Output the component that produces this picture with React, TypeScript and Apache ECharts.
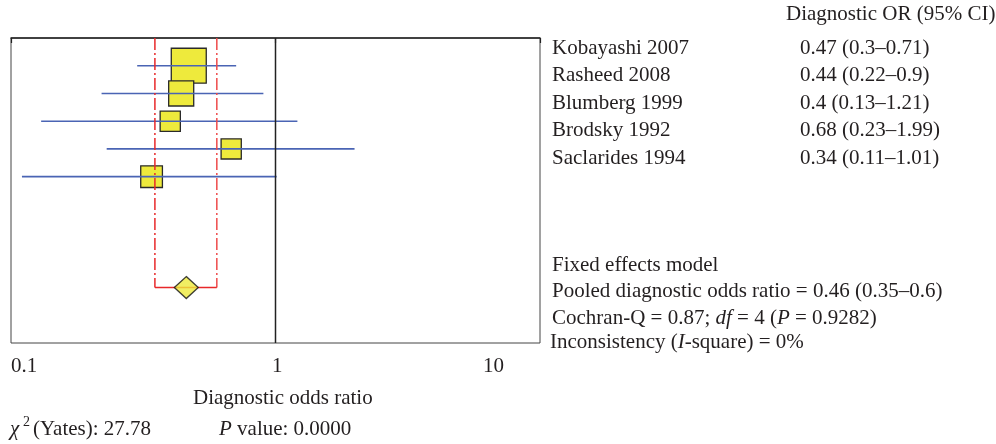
import React, { useEffect, useRef } from "react";
import * as echarts from "echarts";

const studies = ["Kobayashi 2007", "Rasheed 2008", "Blumberg 1999", "Brodsky 1992", "Saclarides 1994"];
const oddsRatios = [0.47, 0.44, 0.4, 0.68, 0.34];
const ciLower = [0.3, 0.22, 0.13, 0.23, 0.11];
const ciUpper = [0.71, 0.9, 1.21, 1.99, 1.01];
const weights = [39, 20, 13, 13, 15];
const studyRows = [1, 2, 3, 4, 5];
const pooledOR = [0.46];
const pooledLower = [0.35];
const pooledUpper = [0.6];
const pooledRow = 9;
const rowMax = 11;
const xTickLabels = ["0.1", "1", "10"];
const summaryLines = [
  "Fixed effects model",
  "Pooled diagnostic odds ratio = 0.46 (0.35\u20130.6)",
  "Cochran-Q = 0.87; {i|df} = 4 ({i|P} = 0.9282)",
  "Inconsistency ({i|I}-square) = 0%",
];

const FONT = "Liberation Serif, Times New Roman, serif";
const TXT = "#231f20";
const FS = 21;

export default function App() {
  const ref = useRef<HTMLDivElement>(null);
  useEffect(() => {
    if (!ref.current) return;
    const chart = echarts.init(ref.current, undefined, { renderer: "svg" });
    const baseText = { fontFamily: FONT, fontSize: FS, fill: TXT, verticalAlign: "middle" };
    const rich = {
      i: { fontFamily: FONT, fontSize: FS, fontStyle: "italic", fill: TXT },
    };
    const nameY = [47, 74, 102, 129, 157];
    const summaryY = [264, 290, 317, 341];
    const summaryX = [552, 552, 552, 550];
    const tickLabelX = [11, 272, 483];
    const graphics: any[] = [];
    graphics.push({
      type: "text", x: 786, y: 13,
      style: { ...baseText, text: "Diagnostic OR (95% CI)", align: "left" },
    });
    studies.forEach((s, i) => {
      graphics.push({ type: "text", x: 552, y: nameY[i], style: { ...baseText, text: s, align: "left" } });
      graphics.push({
        type: "text", x: 800, y: nameY[i],
        style: { ...baseText, text: `${oddsRatios[i]} (${ciLower[i]}\u2013${ciUpper[i]})`, align: "left" },
      });
    });
    summaryLines.forEach((s, i) => {
      graphics.push({ type: "text", x: summaryX[i], y: summaryY[i], style: { ...baseText, text: s, rich, align: "left" } });
    });
    xTickLabels.forEach((t, i) => {
      graphics.push({ type: "text", x: tickLabelX[i], y: 365, style: { ...baseText, text: t, align: "left" } });
    });
    graphics.push({ type: "text", x: 193, y: 397, style: { ...baseText, text: "Diagnostic odds ratio", align: "left" } });
    graphics.push({ type: "text", x: 10, y: 428, style: { ...baseText, text: "\u03c7", fontStyle: "italic", align: "left" } });
    graphics.push({ type: "text", x: 23, y: 421, style: { ...baseText, text: "2", fontSize: 14, align: "left" } });
    graphics.push({ type: "text", x: 33, y: 428, style: { ...baseText, text: "(Yates): 27.78", align: "left" } });
    graphics.push({
      type: "text", x: 219, y: 428,
      style: { ...baseText, text: "{i|P} value: 0.0000", rich, align: "left" },
    });

    const studyData = studies.map((_, i) => [oddsRatios[i], ciLower[i], ciUpper[i], studyRows[i], weights[i]]);

    chart.setOption({
      animation: false,
      grid: {
        left: 11, right: 456, top: 38, bottom: 101,
        show: true, borderColor: "#444", borderWidth: 1, containLabel: false,
        outerBoundsMode: "none",
      },
      xAxis: {
        type: "log", logBase: 10, min: 0.1, max: 10,
        axisLine: { show: true, lineStyle: { color: "#222", width: 1.5 } },
        axisTick: { show: true, length: 5, inside: false, lineStyle: { color: "#222", width: 1.2 } },
        axisLabel: { show: false },
        splitLine: { show: false },
        minorTick: { show: false },
      },
      yAxis: { type: "value", min: 0, max: rowMax, inverse: true, show: false, splitLine: { show: false } },
      graphic: graphics,
      series: [
        {
          type: "line",
          data: [[1, 0], [1, rowMax]],
          symbol: "none",
          lineStyle: { color: "#222", width: 1.5 },
          silent: true,
        },
        {
          type: "custom",
          data: studyData,
          encode: { x: [0, 1, 2], y: 3 },
          renderItem: (params: any, api: any) => {
            const or = api.value(0), lo = api.value(1), hi = api.value(2), row = api.value(3), w = api.value(4);
            const c = api.coord([or, row]);
            const l = api.coord([lo, row]);
            const h = api.coord([hi, row]);
            const s = Math.sqrt(w) * 5.6;
            return {
              type: "group",
              children: [
                {
                  type: "rect",
                  shape: { x: c[0] - s / 2, y: c[1] - s / 2, width: s, height: s },
                  style: { fill: "#eeea3c", stroke: "#2a2a2a", lineWidth: 1.3 },
                },
                {
                  type: "line",
                  shape: { x1: l[0], y1: l[1], x2: h[0], y2: h[1] },
                  style: { stroke: "#4a64b4", lineWidth: 1.6 },
                },
              ],
            };
          },
        },
        {
          type: "line",
          data: [[pooledLower[0], 0], [pooledLower[0], pooledRow]],
          symbol: "none",
          lineStyle: { color: "#e8282a", width: 1.5, type: [12, 3, 2, 3] },
        },
        {
          type: "line",
          data: [[pooledUpper[0], 0], [pooledUpper[0], pooledRow]],
          symbol: "none",
          lineStyle: { color: "#ee4a4a", width: 1.5, type: [12, 3, 2, 3] },
        },
        {
          type: "line",
          data: [[pooledLower[0], pooledRow], [pooledUpper[0], pooledRow]],
          symbol: "none",
          lineStyle: { color: "#e8282a", width: 1.5 },
        },
        {
          type: "scatter",
          data: [[pooledOR[0], pooledRow]],
          symbol: "diamond",
          symbolSize: [24, 22],
          itemStyle: { color: "#eeea3c", borderColor: "#111", borderWidth: 1.3 },
          z: 5,
        },
      ],
    });
    return () => chart.dispose();
  }, []);
  return <div ref={ref} style={{ position: "fixed", left: 0, top: 0, width: 996, height: 444 }} />;
}
